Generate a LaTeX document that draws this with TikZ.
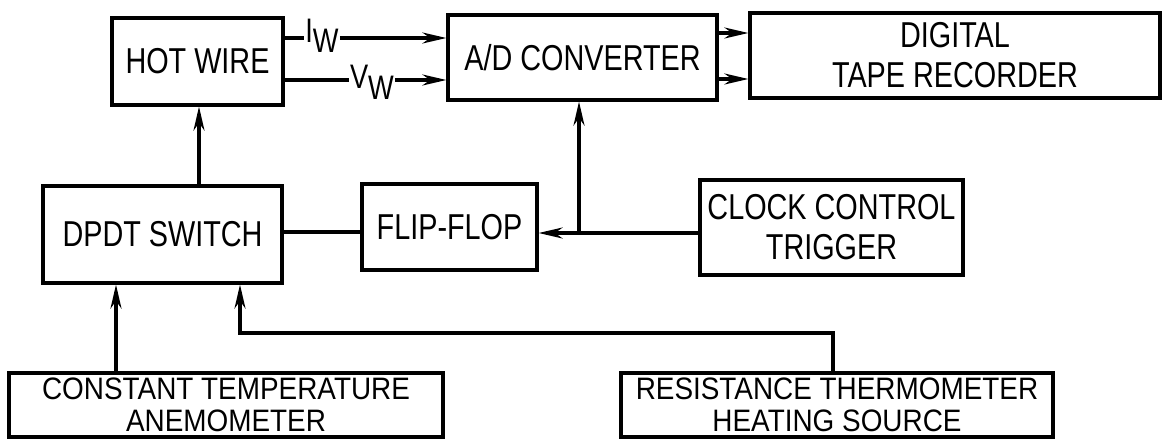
\documentclass[tikz,border=0pt]{standalone}
\usepackage{fontspec}
\setmainfont{Liberation Sans}[FakeStretch=0.8]
\newfontfamily\lowfont{Liberation Sans}[FakeStretch=0.9]
\usetikzlibrary{arrows.meta}
\begin{document}
\begin{tikzpicture}[x=1pt,y=-1pt,
  box/.style={draw, line width=3.2pt, inner sep=0pt, align=center, font=\fontsize{36}{40}\selectfont},
  lowbox/.style={box, font=\lowfont\fontsize{31}{32}\selectfont},
  conn/.style={line width=3.2pt},
  arr/.style={conn,-{Stealth[length=24pt,width=11pt]}},
  lbl/.style={inner sep=1pt, font=\fontsize{34}{36}\selectfont}]
\useasboundingbox (0,0) rectangle (1172,439);
\node[box, minimum width=171pt, minimum height=87pt] (hw) at (197.5,61.5) {HOT WIRE};
\node[box, minimum width=269pt, minimum height=85pt] (ad) at (582.5,57.5) {A/D CONVERTER};
\node[box, minimum width=410pt, minimum height=85pt] (tape) at (955,55.5) {DIGITAL\\TAPE RECORDER};
\node[box, minimum width=239pt, minimum height=97pt] (dpdt) at (162.5,234.5) {DPDT SWITCH};
\node[box, minimum width=175pt, minimum height=86pt] (ff) at (449.5,227) {FLIP-FLOP};
\node[box, minimum width=263pt, minimum height=95pt] (clk) at (831.5,227.5) {CLOCK CONTROL\\TRIGGER};
\node[lowbox, minimum width=434pt, minimum height=64pt] (cta) at (226,405) {CONSTANT TEMPERATURE\\ANEMOMETER};
\node[lowbox, minimum width=432pt, minimum height=64pt] (rth) at (837,405) {RESISTANCE THERMOMETER\\HEATING SOURCE};
% labels
\node[lbl] (iw) at (322,36) {I\raisebox{-0.55ex}{W}};
\node[lbl] (vw) at (372,82) {V\raisebox{-0.6ex}{W}};
\coordinate (iwL) at (iw.west |- 0,38);
\coordinate (iwR) at (iw.east |- 0,38);
\coordinate (vwL) at (vw.west |- 0,80);
\coordinate (vwR) at (vw.east |- 0,80);
\draw[conn] (hw.east |- iwL) -- (iwL);
\draw[arr] (iwR) -- (ad.west |- iwR);
\draw[conn] (hw.east |- vwL) -- (vwL);
\draw[arr] (vwR) -- (ad.west |- vwR);
% A/D to tape
\coordinate (o1) at (717,33);
\coordinate (o2) at (717,79);
\draw[arr] (ad.east |- o1) -- (tape.west |- o1);
\draw[arr] (ad.east |- o2) -- (tape.west |- o2);
% DPDT to hot wire
\draw[arr] (dpdt.north -| 199,0) -- (hw.south -| 199,0);
% DPDT -- flip flop
\draw[conn] (dpdt.east |- 0,232) -- (ff.west |- 0,232);
% clock to flip-flop and A/D
\coordinate (j) at (579,233);
\draw[arr] (clk.west |- j) -- (ff.east |- j);
\draw[arr] (j) -- (ad.south -| j);
% CTA to DPDT
\draw[arr] (cta.north -| 116,0) -- (dpdt.south -| 116,0);
% RTH to DPDT
\coordinate (r1) at (833,333);
\coordinate (r2) at (240,333);
\draw[arr] (rth.north -| r1) -- (r1) -- (r2) -- (dpdt.south -| r2);
\end{tikzpicture}
\end{document}
